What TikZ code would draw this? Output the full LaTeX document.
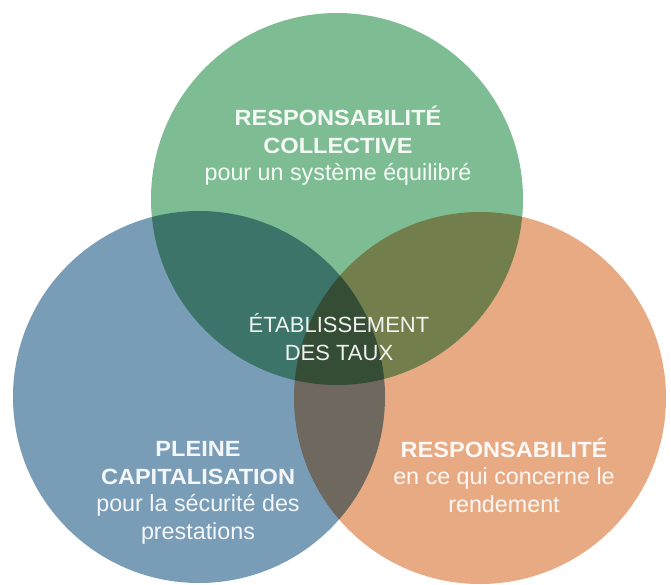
\documentclass[tikz,border=0pt]{standalone}
\usepackage{fontspec}
\setmainfont{Liberation Sans}
\newfontfamily\titlefont{Liberation Sans Bold}[FakeStretch=1.07]
\usetikzlibrary{positioning}

\definecolor{collgreen}{HTML}{7EBD93}
\definecolor{capblue}{HTML}{7A9DB7}
\definecolor{rendorange}{HTML}{E7AA83}

\tikzset{
	venn/.style={circle,minimum size=372pt,inner sep=0pt},
	vtext/.style={align=center,text=white,text opacity=0.92,
		font=\fontsize{22}{27.5}\selectfont},
}
\newcommand{\ttl}[1]{{\titlefont #1}}
\newcommand{\sub}[1]{{\fontsize{23.3}{27.5}\selectfont #1}}

\begin{document}
\begin{tikzpicture}[x=1pt,y=-1pt]
	\useasboundingbox (0,0) rectangle (671,585);

	\begin{scope}[blend group=multiply]
		\node[venn,fill=collgreen] (coll) at (337,199) {};
		\node[venn,fill=capblue] (cap) at (199,397) {};
		\node[venn,fill=rendorange] (rend) at (480,398) {};
	\end{scope}

	% textes
	\node[vtext] (colltxt) at (338,146) {\ttl{RESPONSABILITÉ}\\ \ttl{COLLECTIVE}\\ \sub{pour un système équilibré}};
	\node[vtext] (taux) at (339,337) {ÉTABLISSEMENT\\ DES TAUX};
	\node[vtext] (captxt) at (198,493) {\ttl{PLEINE}\\ \ttl{CAPITALISATION}\\ \sub{pour la sécurité des}\\ \sub{prestations}};
	\node[vtext] (rendtxt) at (504,475) {\ttl{RESPONSABILITÉ}\\ \sub{en ce qui concerne le}\\ \sub{rendement}};
\end{tikzpicture}
\end{document}
